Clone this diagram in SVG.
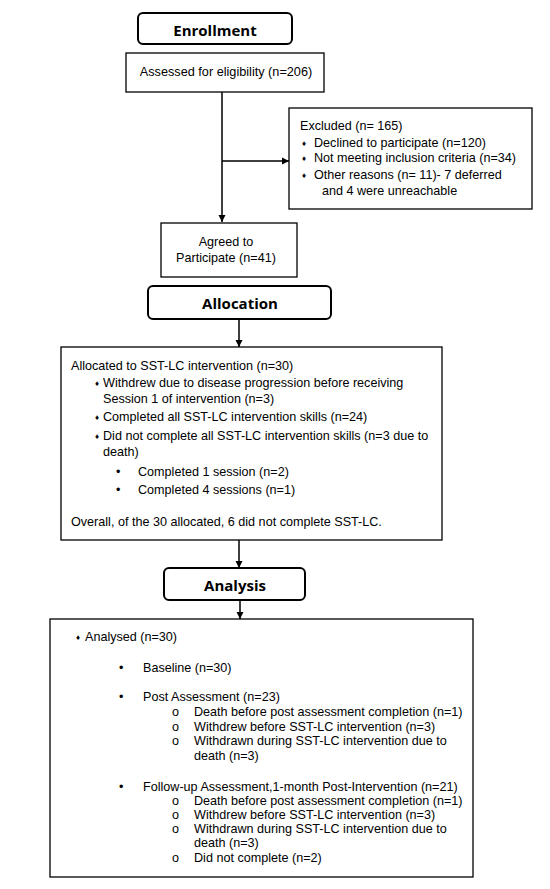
<svg xmlns="http://www.w3.org/2000/svg" width="550" height="889" viewBox="0 0 550 889">
<style>
.hdr{fill:#fff;stroke:#000;stroke-width:2}
.box{fill:#fff;stroke:#000;stroke-width:1.3}
.h{font-family:"Open Sans",sans-serif;font-weight:bold;font-size:15px;text-anchor:middle}
.t{font-family:"Liberation Sans",Arial,sans-serif;font-size:12.6px}
.c{text-anchor:middle}
.d{font-size:8px}
.ln{stroke:#000;stroke-width:1.5;fill:none}
</style>
<defs>
<marker id="ah" markerWidth="8" markerHeight="8" refX="7" refY="4" orient="auto" markerUnits="userSpaceOnUse">
<path d="M0,0.5 L7,4 L0,7.5 Z" fill="#000"/>
</marker>
</defs>
<g id="connectors">
<line class="ln" x1="222" y1="92" x2="222" y2="222" marker-end="url(#ah)"/>
<line class="ln" x1="222" y1="161" x2="289" y2="161" marker-end="url(#ah)"/>
<line class="ln" x1="239" y1="319" x2="239" y2="347" marker-end="url(#ah)"/>
<line class="ln" x1="239" y1="540" x2="239" y2="568" marker-end="url(#ah)"/>
<line class="ln" x1="240" y1="600" x2="240" y2="619" marker-end="url(#ah)"/>
</g>
<g id="enrollment">
<rect class="hdr" x="138" y="13" width="154" height="31" rx="5"/>
<text class="h" x="215" y="36">Enrollment</text>
</g>
<g id="assessed">
<rect class="box" x="126" y="53" width="198" height="39"/>
<text class="t c" x="226" y="76" style="font-size:12.7px">Assessed for eligibility (n=206)</text>
</g>
<g id="excluded">
<rect class="box" x="289" y="108" width="243" height="101"/>
<text class="t" x="300" y="130">Excluded (n= 165)</text>
<text class="t d" x="302" y="146">♦</text><text class="t" x="314" y="147">Declined to participate (n=120)</text>
<text class="t d" x="302" y="161">♦</text><text class="t" x="314" y="162">Not meeting inclusion criteria (n=34)</text>
<text class="t d" x="302" y="178">♦</text><text class="t" x="314" y="179">Other reasons (n= 11)- 7 deferred</text>
<text class="t" x="322" y="195">and 4 were unreachable</text>
</g>
<g id="agreed">
<rect class="box" x="161" y="223" width="136" height="54"/>
<text class="t c" x="226" y="246">Agreed to</text>
<text class="t c" x="226" y="262">Participate (n=41)</text>
</g>
<g id="allocation">
<rect class="hdr" x="148" y="286" width="183" height="33" rx="5"/>
<text class="h" x="240" y="309">Allocation</text>
</g>
<g id="allocated">
<rect class="box" x="61" y="347" width="381" height="193"/>
<text class="t" x="71" y="370">Allocated to SST-LC intervention (n=30)</text>
<text class="t d" x="95" y="386">♦</text><text class="t" x="103" y="387">Withdrew due to disease progression before receiving</text>
<text class="t" x="103" y="403">Session 1 of intervention (n=3)</text>
<text class="t d" x="95" y="420">♦</text><text class="t" x="103" y="421">Completed all SST-LC intervention skills (n=24)</text>
<text class="t d" x="95" y="439">♦</text><text class="t" x="103" y="440">Did not complete all SST-LC intervention skills (n=3 due to</text>
<text class="t" x="103" y="456">death)</text>
<text class="t" x="116" y="476">•</text><text class="t" x="138" y="476">Completed 1 session (n=2)</text>
<text class="t" x="116" y="494">•</text><text class="t" x="138" y="494">Completed 4 sessions (n=1)</text>
<text class="t" x="71" y="526">Overall, of the 30 allocated, 6 did not complete SST-LC.</text>
</g>
<g id="analysis">
<rect class="hdr" x="164" y="568" width="141" height="32" rx="5"/>
<text class="h" x="235" y="591">Analysis</text>
</g>
<g id="analysed">
<rect class="box" x="50" y="619" width="423" height="258"/>
<text class="t d" x="76" y="640">♦</text><text class="t" x="85" y="641">Analysed (n=30)</text>
<text class="t" x="119" y="672">•</text><text class="t" x="143" y="672">Baseline (n=30)</text>
<text class="t" x="119" y="701">•</text><text class="t" x="143" y="701">Post Assessment (n=23)</text>
<text class="t" x="172" y="716">o</text><text class="t" x="194" y="716">Death before post assessment completion (n=1)</text>
<text class="t" x="172" y="731">o</text><text class="t" x="194" y="731">Withdrew before SST-LC intervention (n=3)</text>
<text class="t" x="172" y="745">o</text><text class="t" x="194" y="745">Withdrawn during SST-LC intervention due to</text>
<text class="t" x="194" y="760">death (n=3)</text>
<text class="t" x="119" y="791">•</text><text class="t" x="143" y="791">Follow-up Assessment,1-month Post-Intervention (n=21)</text>
<text class="t" x="172" y="805">o</text><text class="t" x="194" y="805">Death before post assessment completion (n=1)</text>
<text class="t" x="172" y="819">o</text><text class="t" x="194" y="819">Withdrew before SST-LC intervention (n=3)</text>
<text class="t" x="172" y="833">o</text><text class="t" x="194" y="833">Withdrawn during SST-LC intervention due to</text>
<text class="t" x="194" y="847">death (n=3)</text>
<text class="t" x="172" y="862">o</text><text class="t" x="194" y="862">Did not complete (n=2)</text>
</g>
</svg>
